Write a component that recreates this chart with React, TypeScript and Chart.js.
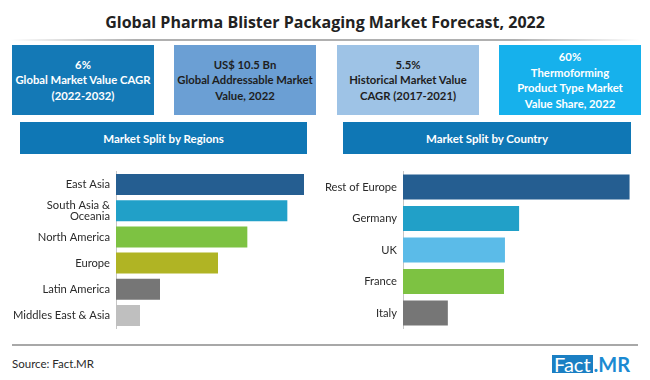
import React, { useEffect, useRef } from "react";
import { Chart, registerables } from "chart.js";

Chart.register(...registerables);

const titleText = "Global Pharma Blister Packaging Market Forecast, 2022";

const kpiLines: string[][] = [
  ["6%", "Global Market Value CAGR", "(2022-2032)"],
  ["US$ 10.5 Bn", "Global Addressable Market", "Value, 2022"],
  ["5.5%", "Historical Market Value", "CAGR (2017-2021)"],
  ["60%", "Thermoforming", "Product Type Market", "Value Share, 2022"],
];

const regionLabels: (string | string[])[] = [
  "East Asia",
  ["South Asia &", "Oceania"],
  "North America",
  "Europe",
  "Latin America",
  "Middles East & Asia",
];
const regionValues = [28.2, 25.7, 19.7, 15.3, 6.6, 3.6];

const countryLabels = ["Rest of Europe", "Germany", "UK", "France", "Italy"];
const countryValues = [48, 24.6, 21.6, 21.4, 9.5];

const regionColors = ["#255e91", "#21a0c8", "#7dc242", "#b0b424", "#767676", "#bfbfbf"];
const countryColors = ["#255e91", "#21a0c8", "#5bbbe8", "#7dc242", "#767676"];

const kpiStyles = [
  { bg: "#1479b6", fg: "#ffffff" },
  { bg: "#6b9fd4", fg: "#1e1e1e" },
  { bg: "#9ec3e6", fg: "#1e1e1e" },
  { bg: "#16b1ec", fg: "#ffffff" },
];

type BarProps = {
  labels: (string | string[])[];
  values: number[];
  colors: string[];
  left: number;
  top: number;
  width: number;
  height: number;
  axisX: number;
  padRight: number;
  padTop: number;
  padBottom: number;
  max: number;
  barPct: number;
};

function BarChart(p: BarProps) {
  const ref = useRef<HTMLCanvasElement | null>(null);
  useEffect(() => {
    if (!ref.current) return;
    const chart = new Chart(ref.current, {
      type: "bar",
      data: {
        labels: p.labels as any,
        datasets: [
          {
            data: p.values,
            backgroundColor: p.colors,
            borderWidth: 0,
            barPercentage: p.barPct,
            categoryPercentage: 1,
          },
        ],
      },
      options: {
        indexAxis: "y",
        responsive: false,
        maintainAspectRatio: false,
        animation: false,
        layout: { padding: { left: 0, right: p.padRight, top: p.padTop, bottom: p.padBottom } },
        plugins: { legend: { display: false }, tooltip: { enabled: false } },
        scales: {
          x: { display: false, min: 0, max: p.max },
          y: {
            afterFit: (s: any) => {
              s.width = p.axisX;
            },
            grid: { display: false, drawTicks: false },
            border: { display: true, color: "#c6c6c6", width: 1 },
            ticks: {
              color: "#2a2a2a",
              padding: 6,
              font: { family: "Lato", size: 11.2, lineHeight: 0.95 },
            },
          },
        },
      },
    });
    return () => chart.destroy();
  }, []);
  return (
    <canvas
      ref={ref}
      width={p.width}
      height={p.height}
      style={{ position: "absolute", left: p.left, top: p.top, width: p.width, height: p.height }}
    />
  );
}

export default function App() {
  const boxX = [12, 174, 337, 499];
  const headerStyle: React.CSSProperties = {
    position: "absolute",
    top: 122,
    height: 32,
    background: "#0f77b5",
    color: "#fff",
    fontWeight: 700,
    fontSize: 11.5,
    display: "flex",
    alignItems: "center",
    justifyContent: "center",
    whiteSpace: "nowrap",
  };
  return (
    <div
      style={{
        position: "fixed",
        left: 0,
        top: 0,
        width: 650,
        height: 380,
        background: "#ffffff",
        overflow: "hidden",
        fontFamily: "Lato, sans-serif",
      }}
    >
      <div
        style={{
          position: "absolute",
          left: 0,
          top: 10,
          width: 650,
          textAlign: "center",
          fontFamily: "'Open Sans', sans-serif",
          fontWeight: 700,
          fontSize: 16,
          lineHeight: "24px",
          color: "#222",
          whiteSpace: "nowrap",
        }}
      >
        {titleText}
      </div>
      <div
        style={{
          position: "absolute",
          left: 10,
          top: 39,
          width: 630,
          height: 2,
          background:
            "linear-gradient(to right, rgba(170,170,170,0), #b0b0b0 20%, #b0b0b0 80%, rgba(170,170,170,0))",
        }}
      />
      {kpiLines.map((lines, i) => (
        <div
          key={i}
          style={{
            position: "absolute",
            left: boxX[i],
            top: 45,
            width: 142,
            height: 70,
            background: kpiStyles[i].bg,
            color: kpiStyles[i].fg,
            display: "flex",
            flexDirection: "column",
            justifyContent: "center",
            alignItems: "center",
            fontWeight: 700,
            fontSize: 11.3,
            lineHeight: "15.5px",
            textAlign: "center",
            whiteSpace: "nowrap",
          }}
        >
          {lines.map((l, j) => (
            <div key={j}>{l}</div>
          ))}
        </div>
      ))}
      <div style={{ ...headerStyle, left: 20, width: 287 }}>Market Split by Regions</div>
      <div style={{ ...headerStyle, left: 343, width: 288 }}>Market Split by Country</div>
      <BarChart
        labels={regionLabels}
        values={regionValues}
        colors={regionColors}
        left={0}
        top={160}
        width={320}
        height={180}
        axisX={116}
        padRight={4}
        padTop={4}
        padBottom={4}
        max={30}
        barPct={0.8}
      />
      <BarChart
        labels={countryLabels}
        values={countryValues}
        colors={countryColors}
        left={320}
        top={160}
        width={330}
        height={180}
        axisX={83}
        padRight={11}
        padTop={5}
        padBottom={6}
        max={50}
        barPct={0.79}
      />
      <div
        style={{
          position: "absolute",
          left: 12,
          top: 344,
          width: 626,
          height: 2,
          background: "#a8a8a8",
        }}
      />
      <div
        style={{
          position: "absolute",
          left: 12,
          top: 356,
          fontSize: 11.5,
          color: "#2a2a2a",
          lineHeight: "16px",
        }}
      >
        Source: Fact.MR
      </div>
      <div
        style={{
          position: "absolute",
          left: 552,
          top: 355,
          height: 18,
          display: "flex",
          alignItems: "center",
          fontSize: 20,
          lineHeight: "18px",
          whiteSpace: "nowrap",
        }}
      >
        <span style={{ background: "#1b7fc3", color: "#fff", padding: "0 2px", height: 18, lineHeight: "19px" }}>
          Fact
        </span>
        <span style={{ color: "#1b8ad2", fontWeight: 700, marginLeft: 1 }}>.MR</span>
      </div>
    </div>
  );
}
